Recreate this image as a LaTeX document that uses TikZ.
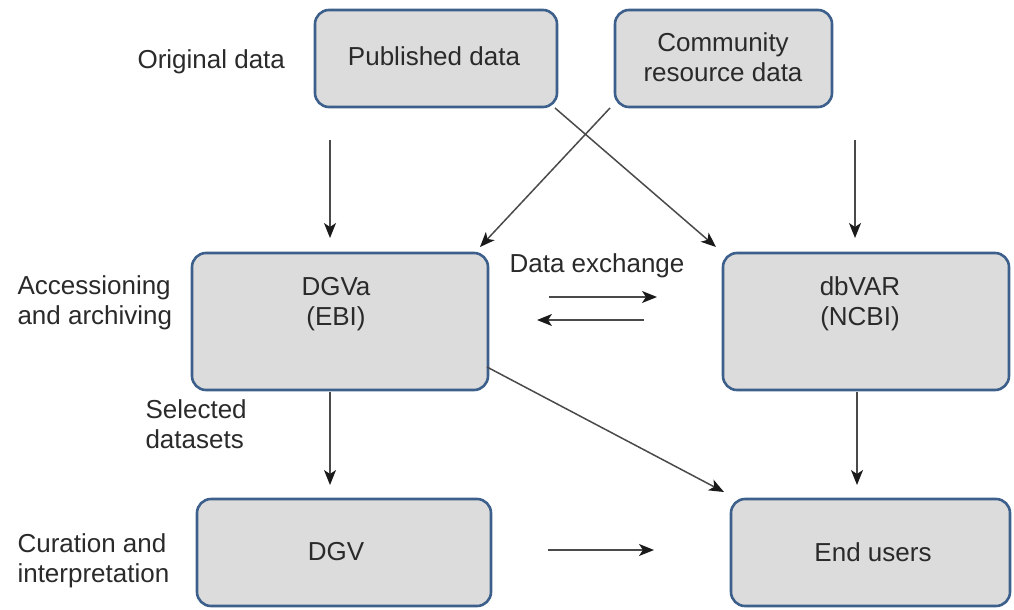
\documentclass[tikz,border=0pt]{standalone}
\usepackage{fontspec}
\setmainfont{Liberation Sans}
\usetikzlibrary{arrows.meta}
\begin{document}
\begin{tikzpicture}[x=1pt,y=-1pt,
  box/.style={draw=boxborder,fill=boxfill,line width=2.6pt,rounded corners=14pt},
  lbl/.style={font=\fontsize{26}{30}\selectfont,text=txt,align=center},
  side/.style={font=\fontsize{26}{30}\selectfont,text=txt,align=left},
  arr/.style={draw=arrc,line width=1.5pt,-{Stealth[length=15pt,width=12pt,inset=4pt,color=arrh]}}]
\definecolor{boxborder}{HTML}{3D5F8C}
\definecolor{boxfill}{HTML}{DCDCDC}
\definecolor{txt}{HTML}{2A2A2A}
\definecolor{arrc}{HTML}{4A4A4A}
\definecolor{arrh}{HTML}{1A1A1A}
\useasboundingbox (0,0) rectangle (1014,610);
% boxes
\draw[box] (315,10) rectangle (557,107);
\node[lbl] (pub) at (434,56) {Published data};
\draw[box] (615,10) rectangle (832,107);
\node[lbl] (com) at (723,57) {Community\\resource data};
\draw[box] (192,253) rectangle (488,390);
\node[lbl] (dgva) at (336,304) {DGVa\\(EBI)};
\draw[box] (723,253) rectangle (1009,390);
\node[lbl] (dbvar) at (860,304) {dbVAR\\(NCBI)};
\draw[box] (197,499) rectangle (491,606);
\node[lbl] (dgv) at (336,552) {DGV};
\draw[box] (731,499) rectangle (1010,606);
\node[lbl] (end) at (873,552) {End users};
% side labels
\node[side,anchor=west] (l1) at (134,62) {Original data};
\node[side,anchor=west] (l2) at (14,303) {Accessioning\\and archiving};
\node[side,anchor=west] (l3) at (142,424) {Selected\\datasets};
\node[side,anchor=west] (l4) at (14,561) {Curation and\\interpretation};
\node[lbl] (dx) at (597,266) {Data exchange};
% coordinates
\coordinate (a1s) at (330,140); \coordinate (a1e) at (330,238);
\coordinate (a2s) at (855,140); \coordinate (a2e) at (855,238);
\coordinate (c1s) at (555,108); \coordinate (c1e) at (716,247);
\coordinate (c2s) at (610,108); \coordinate (c2e) at (480,247);
\coordinate (x1s) at (549,297); \coordinate (x1e) at (657,297);
\coordinate (x2s) at (644,320); \coordinate (x2e) at (537,320);
\coordinate (d1s) at (330,392); \coordinate (d1e) at (330,485);
\coordinate (d2s) at (857,392); \coordinate (d2e) at (857,485);
\coordinate (e1s) at (487,367); \coordinate (e1e) at (724,492);
\coordinate (e2s) at (548,550); \coordinate (e2e) at (654,550);
\draw[arr] (a1s) -- (a1e);
\draw[arr] (a2s) -- (a2e);
\draw[arr] (c1s) -- (c1e);
\draw[arr] (c2s) -- (c2e);
\draw[arr] (x1s) -- (x1e);
\draw[arr] (x2s) -- (x2e);
\draw[arr] (d1s) -- (d1e);
\draw[arr] (d2s) -- (d2e);
\draw[arr] (e1s) -- (e1e);
\draw[arr] (e2s) -- (e2e);
\end{tikzpicture}
\end{document}
